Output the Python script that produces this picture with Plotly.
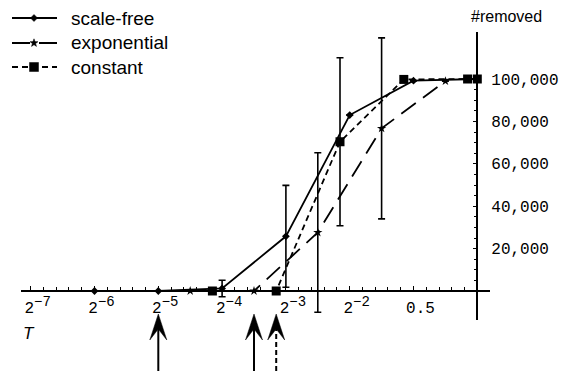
import numpy as np
import plotly.graph_objects as go

W, H = 569, 371
OFF = 8  # the page body adds an 8px margin; positions below are page pixels

# ---- data ----
sf_T = [2**-6, 2**-5, 2**-4, 2**-3, 2**-2, 2**-1, 1.0]
sf_removed = [0, 0, 1200, 25800, 83000, 99200, 100000]
sf_err = [None, None, 3900, 24000, None, None, None]

exp_T = [2**-4.5, 2**-3.5, 2**-2.5, 2**-1.5, 2**-0.5]
exp_removed = [0, 0, 27600, 76700, 99000]
exp_err = [None, None, 37600, 42700, None]

const_T = [0.9 * 2**-4, 0.9 * 2**-3, 0.9 * 2**-2, 0.9 * 2**-1, 0.9, 1.0]
const_removed = [0, 0, 70400, 99800, 100000, 100000]
const_err = [None, None, 39600, None, None, None]

thresholds_T = [2**-5, 2**-3.5, 0.9 * 2**-3]
threshold_dash = ["solid", "solid", "dash"]

series_names = ["scale-free", "exponential", "constant"]

x_tick_exp = [-7, -6, -5, -4, -3, -2, -1]
x_tick_text = ["2<sup><span style='font-size:14px'>−%d</span></sup>" % k for k in (7, 6, 5, 4, 3, 2)] + ["0.5"]
y_tick_vals = [20000, 40000, 60000, 80000, 100000]
y_tick_text = ["20,000", "40,000", "60,000", "80,000", "100,000"]

# ---- layout geometry (page pixels, converted to figure pixels) ----
px_per_unit = 63.8
x_origin_px = 477.3 - OFF
x_left_px, x_right_px = 21 - OFF, 490 - OFF
y_zero_px = 291 - OFF
y_top_px, y_bot_px = 32 - OFF, 320 - OFF
val_per_px = 20000 / 42.4

xmin = (x_left_px - x_origin_px) / px_per_unit
xmax = (x_right_px - x_origin_px) / px_per_unit
ymin = -(y_bot_px - y_zero_px) * val_per_px
ymax = (y_zero_px - y_top_px) * val_per_px

styles = {
    "scale-free": dict(dash="solid", symbol="diamond", size=6),
    "exponential": dict(dash="18px,9px", symbol="star", size=7),
    "constant": dict(dash="6px,4px", symbol="square", size=9),
}

fig = go.Figure()

def add_series(T, vals, err, name):
    st = styles[name]
    fig.add_trace(go.Scatter(
        x=np.log2(T), y=vals, name=name, mode="lines+markers",
        line=dict(color="black", width=1.8, dash=st["dash"]),
        marker=dict(symbol=st["symbol"], size=st["size"], color="black"),
        error_y=dict(type="data", array=err, visible=True, color="black",
                     thickness=1.6, width=3.5),
        showlegend=False,
    ))

add_series(sf_T, sf_removed, sf_err, "scale-free")
add_series(exp_T, exp_removed, exp_err, "exponential")
add_series(const_T, const_removed, const_err, "constant")

shapes = []
# threshold arrows below the axis
for T, d in zip(thresholds_T, threshold_dash):
    xa = float(np.log2(T))
    shapes.append(dict(type="line", xref="x", yref="paper", xsizemode="pixel",
                       ysizemode="pixel", xanchor=xa, yanchor=0,
                       x0=0, x1=0, y0=0, y1=52,
                       line=dict(color="black", width=2,
                                 dash="solid" if d == "solid" else "5px,3px")))
    shapes.append(dict(type="path", xref="x", yref="paper", xsizemode="pixel",
                       ysizemode="pixel", xanchor=xa, yanchor=0,
                       path="M0,65 L8.5,39 L0,50 L-8.5,39 Z",
                       fillcolor="black", line=dict(color="black", width=0.5)))

# hand-made legend (Mathematica style)
def star_path(r_out, r_in):
    pts = []
    for i in range(10):
        r = r_out if i % 2 == 0 else r_in
        a = np.pi / 2 + i * np.pi / 5
        pts.append("%.2f,%.2f" % (r * np.cos(a), r * np.sin(a)))
    return "M" + " L".join(pts) + " Z"

marker_paths = {
    "diamond": "M0,3.5 L3.5,0 L0,-3.5 L-3.5,0 Z",
    "star": star_path(4.2, 1.7),
    "square": "M-4.5,-4.5 L4.5,-4.5 L4.5,4.5 L-4.5,4.5 Z",
}
legend_rows_px = [18, 43, 67]
annotations = []
for name, row in zip(series_names, legend_rows_px):
    st = styles[name]
    yp = (H - (row - OFF)) / H
    shapes.append(dict(type="line", xref="paper", yref="paper",
                       x0=(12 - OFF) / W, x1=(57 - OFF) / W, y0=yp, y1=yp,
                       line=dict(color="black", width=1.8, dash=st["dash"])))
    shapes.append(dict(type="path", xref="paper", yref="paper", xsizemode="pixel",
                       ysizemode="pixel", xanchor=(34 - OFF) / W, yanchor=yp,
                       path=marker_paths[st["symbol"]], fillcolor="black",
                       line=dict(color="black", width=0.5)))
    annotations.append(dict(text=name, xref="paper", yref="paper", xanchor="left",
                            yanchor="middle", x=(69 - OFF) / W, y=yp, showarrow=False,
                            font=dict(family="Liberation Sans", size=19, color="black")))

annotations += [
    dict(text="#removed", xref="paper", yref="paper", xanchor="center", yanchor="middle",
         x=(506 - OFF) / W, y=(H - (16 - OFF)) / H,
         showarrow=False, font=dict(family="Liberation Sans", size=16, color="black")),
    dict(text="<i>T</i>", xref="paper", yref="paper", xanchor="center", yanchor="middle",
         x=(29 - OFF) / W, y=(H - (333 - OFF)) / H,
         showarrow=False, font=dict(family="Liberation Sans", size=17, color="black")),
]

fig.update_layout(
    width=W, height=H, autosize=False,
    margin=dict(l=0, r=0, t=0, b=0),
    paper_bgcolor="white", plot_bgcolor="white",
    showlegend=False,
    xaxis=dict(
        domain=[x_left_px / W, x_right_px / W], range=[xmin, xmax],
        anchor="free", position=(H - y_zero_px) / H,
        showgrid=False, zeroline=False, showline=True, linecolor="black", linewidth=1.6,
        tickmode="array", tickvals=x_tick_exp, ticktext=x_tick_text,
        ticks="inside", ticklen=4, tickwidth=1.2, tickcolor="black",
        tickfont=dict(family="Liberation Mono", size=16, color="black"),
        ticklabelshift=7, ticklabelstandoff=2,
        minor=dict(tickmode="array",
                   tickvals=[k / 5 for k in range(-35, 1) if k % 5 != 0],
                   ticks="inside", ticklen=3, tickwidth=1.2, tickcolor="black"),
    ),
    yaxis=dict(
        domain=[(H - y_bot_px) / H, (H - y_top_px) / H], range=[ymin, ymax],
        anchor="free", position=x_origin_px / W, side="right",
        showgrid=False, zeroline=False, showline=True, linecolor="black", linewidth=1.6,
        tickmode="array", tickvals=y_tick_vals, ticktext=y_tick_text,
        ticks="inside", ticklen=4, tickwidth=1.2, tickcolor="black",
        tickfont=dict(family="Liberation Mono", size=16, color="black"),
        ticklabelstandoff=10,
        minor=dict(tickmode="array",
                   tickvals=[v for v in range(5000, 100001, 5000) if v % 20000 != 0],
                   ticks="inside", ticklen=3, tickwidth=1.2, tickcolor="black"),
    ),
    shapes=shapes,
    annotations=annotations,
)

fig.write_html("out.html")
